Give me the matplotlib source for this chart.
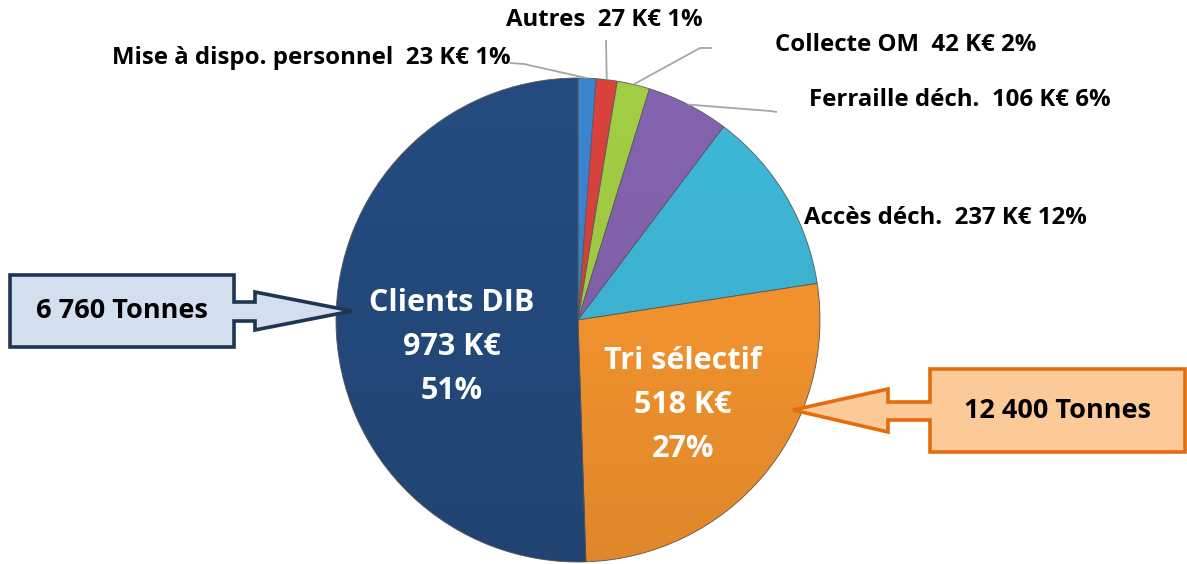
import numpy as np
import matplotlib
matplotlib.use("Agg")
import matplotlib.pyplot as plt
from matplotlib.patches import Polygon, Circle

# data (K€), clockwise from 12 o'clock
names = ["Mise à dispo. personnel", "Autres", "Collecte OM", "Ferraille déch.",
         "Accès déch.", "Tri sélectif", "Clients DIB"]
values = [23, 27, 42, 106, 237, 518, 973]
colors = ["#3B84CF", "#D8423C", "#A3CC45", "#8463AE", "#3EB7D7", "#F7962F", "#244B7E"]
tonnes = ["6 760 Tonnes", "12 400 Tonnes"]

W, H = 1187, 564
CX, CY, R = 578, 320, 242
FONT = "Open Sans"

fig = plt.figure(figsize=(W / 100, H / 100), dpi=100)
ax = fig.add_axes([0, 0, 1, 1])

# y axis is inverted below, so -90 is 12 o'clock and counterclock runs clockwise on screen
wedges, _ = ax.pie(values, colors=colors, startangle=-90, counterclock=True,
                   center=(CX, CY), radius=R, frame=True,
                   wedgeprops=dict(edgecolor="#5a5a5a", linewidth=0.6))
ax.set_xlim(0, W)
ax.set_ylim(H, 0)  # pixel coords, y down
ax.axis("off")

# soft vertical shading over the pie, like the office 3D bevel
grad = np.zeros((256, 2, 4))
t = np.linspace(0, 1, 256)[:, None]
grad[..., 3] = (0.10 * t ** 1.5)[:, :]
im = ax.imshow(grad, extent=(CX - R, CX + R, CY + R, CY - R), aspect="auto",
               interpolation="bilinear", zorder=3)
clip = Circle((CX, CY), R, transform=ax.transData)
im.set_clip_path(clip)
ax.set_xlim(0, W)
ax.set_ylim(H, 0)

total = sum(values)
pcts = [round(100 * v / total) for v in values]


def edge_point(w):
    a = np.deg2rad((w.theta1 + w.theta2) / 2)
    return CX + R * np.cos(a), CY + R * np.sin(a)


# outside labels: (left x, centre y) and leader path from label toward wedge
outside = {
    0: ((112, 58), [(510, 63), (524, 64)]),
    1: ((506, 20), [(606, 40)]),
    2: ((775, 45), [(712, 48), (700, 48)]),
    3: ((809, 100), [(777, 112), (770, 111)]),
    4: ((804, 218), None),
}
for i, ((lx, ly), path) in outside.items():
    ax.text(lx, ly, f"{names[i]}  {values[i]} K€ {pcts[i]}%", ha="left", va="center",
            fontsize=17.3, fontweight="bold", family=FONT, color="black")
    if path:
        ex, ey = edge_point(wedges[i])
        pts = path + [(ex, ey)]
        ax.plot([p[0] for p in pts], [p[1] for p in pts], color="#a6a6a6", lw=1.3,
                solid_capstyle="butt")

# inside labels
inside = {6: (452, 347), 5: (683, 405)}
for i, (tx, ty) in inside.items():
    ax.text(tx, ty, f"{names[i]}\n{values[i]} K€\n{pcts[i]}%", ha="center", va="center",
            fontsize=22, fontweight="bold", family=FONT, color="white", linespacing=1.62,
            zorder=4)

# callout arrows
left_shape = [(10, 275), (234, 275), (234, 302), (255, 302), (255, 292), (352, 311),
              (255, 330), (255, 321), (234, 321), (234, 347), (10, 347)]
ax.add_patch(Polygon(left_shape, closed=True, facecolor="#D3DFEE", edgecolor="#1F3554",
                     lw=2.6, joinstyle="miter", zorder=5))
ax.text(122, 311, tonnes[0], ha="center", va="center", fontsize=19.5, fontweight="bold",
        family=FONT, color="black", zorder=6)

right_shape = [(1185, 369), (930, 369), (930, 402), (888, 402), (888, 389), (793, 410),
               (888, 432), (888, 420), (930, 420), (930, 452), (1185, 452)]
ax.add_patch(Polygon(right_shape, closed=True, facecolor="#FCCA98", edgecolor="#E46C0A",
                     lw=2.6, joinstyle="miter", zorder=5))
ax.text(1057, 411, tonnes[1], ha="center", va="center", fontsize=19.5, fontweight="bold",
        family=FONT, color="black", zorder=6)

fig.savefig("out.png", dpi=100)
